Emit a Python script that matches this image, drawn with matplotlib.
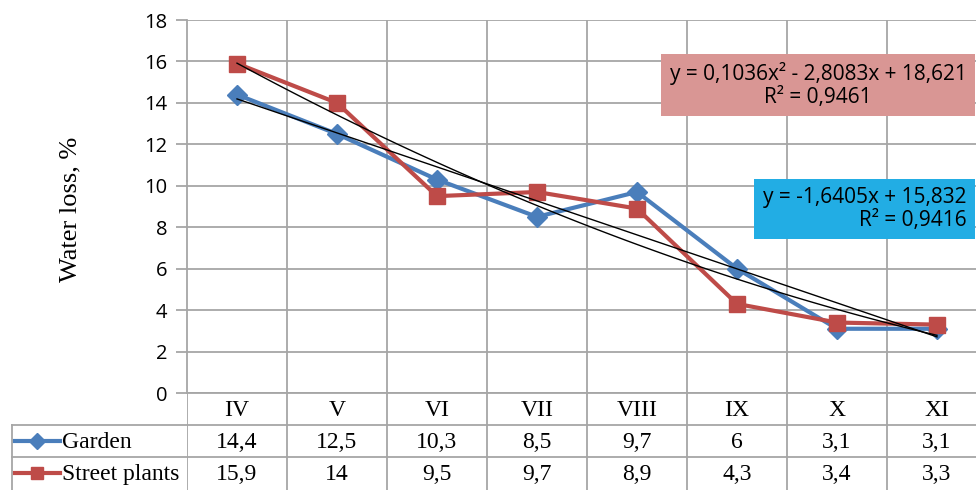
import numpy as np
import matplotlib.pyplot as plt
from matplotlib.lines import Line2D

months = ['IV', 'V', 'VI', 'VII', 'VIII', 'IX', 'X', 'XI']
garden = [14.4, 12.5, 10.3, 8.5, 9.7, 6, 3.1, 3.1]
street = [15.9, 14, 9.5, 9.7, 8.9, 4.3, 3.4, 3.3]
garden_lbl = ['14,4', '12,5', '10,3', '8,5', '9,7', '6', '3,1', '3,1']
street_lbl = ['15,9', '14', '9,5', '9,7', '8,9', '4,3', '3,4', '3,3']
eq_street = 'y = 0,1036x² - 2,8083x + 18,621\nR² = 0,9461'
eq_garden = 'y = -1,6405x + 15,832\nR² = 0,9416'

W, H = 976, 490
grid_c = '#a6a6a6'
blue = '#4a7ebb'
red = '#be4b48'
serif = 'Liberation Serif'
sans = 'Open Sans'

fig = plt.figure(figsize=(W / 100, H / 100), dpi=100)
x0, xr, ytop, ybot = 187, W, 20, 393
ax = fig.add_axes([x0 / W, (H - ybot) / H, (xr - x0) / W, (ybot - ytop) / H])
xmin = -0.5
xmax = xmin + (xr - x0) / 100
n = len(months)
xs = np.arange(n)

# grid
ax.set_xlim(xmin, xmax)
ax.set_ylim(0, 18)
ax.set_yticks(range(0, 19, 2))
for b in np.arange(0.5, n, 1):
    ax.axvline(b, color=grid_c, lw=1.3, zorder=0)
ax.grid(axis='y', color=grid_c, lw=1.3, zorder=0)
ax.set_xticks([])
for s in ['top', 'right', 'bottom']:
    ax.spines[s].set_visible(False)
ax.spines['left'].set_color(grid_c)
ax.spines['left'].set_linewidth(1.3)
ax.tick_params(axis='y', length=8, width=1.3, color=grid_c, labelsize=14.5, pad=6)
for t in ax.get_yticklabels():
    t.set_fontfamily(sans)
ax.axhline(0, color=grid_c, lw=1.3, zorder=1, clip_on=False)

ax.plot(xs, garden, color=blue, lw=3, marker='D', ms=10, zorder=3)
ax.plot(xs, street, color=red, lw=3, marker='s', ms=12, zorder=4)

# trendlines (x = 1..8 as in Excel)
xx = xs + 1
lin = np.polyfit(xx, garden, 1)
poly = np.polyfit(xx, street, 2)
ax.plot(xs, np.polyval(lin, xx), color='black', lw=1, zorder=5)
xf = np.linspace(1, n, 100)
ax.plot(xf - 1, np.polyval(poly, xf), color='black', lw=1, zorder=5)

fig.text(70 / W, 1 - 209 / H, 'Water loss, %', rotation=90, ha='center', va='center',
         fontsize=19, family=serif)

fig.text((661 + 975) / 2 / W, 1 - 85 / H, eq_street, ha='center', va='center', fontsize=15,
         family=sans, linespacing=1.1,
         bbox=dict(boxstyle='square,pad=0.4', fc='#d99694', ec='none'))
fig.text((756 + 973) / 2 / W, 1 - 209 / H, eq_garden, ha='center', va='center', fontsize=15,
         family=sans, linespacing=1.1,
         bbox=dict(boxstyle='square,pad=0.4', fc='#22ade4', ec='none'), multialignment='right')

# data table below the plot
tab = fig.add_axes([x0 / W, 0, (xr - x0) / W, (H - ybot) / H])
tab.set_xlim(xmin, xmax)
tab.set_ylim(H, ybot)
tab.axis('off')
for b in np.arange(-0.5, n, 1):
    tab.plot([b, b], [ybot, H], color=grid_c, lw=1.3)
left = xmin - (x0 - 12) / 100
for yl in [425, 457]:
    tab.plot([left, xmax], [yl, yl], color=grid_c, lw=1.3, clip_on=False)
tab.plot([left, left], [425, H], color=grid_c, lw=1.3, clip_on=False)
for i, m in enumerate(months):
    tab.text(i, 410, m, ha='center', va='center', fontsize=17, family=serif)
    tab.text(i, 442, garden_lbl[i], ha='center', va='center', fontsize=17, family=serif)
    tab.text(i, 474, street_lbl[i], ha='center', va='center', fontsize=17, family=serif)

kx0, kx1 = left + 0.03, left + 0.48
for yk, c, mk, ms, name in [(441, blue, 'D', 8, 'Garden'), (473, red, 's', 9, 'Street plants')]:
    tab.add_line(Line2D([kx0, kx1], [yk, yk], color=c, lw=3, clip_on=False))
    tab.add_line(Line2D([(kx0 + kx1) / 2], [yk], color=c, marker=mk, ms=ms, clip_on=False))
    tab.text(kx1 + 0.02, yk + 1, name, ha='left', va='center', fontsize=17, family=serif)

fig.savefig('out.png', dpi=100)
